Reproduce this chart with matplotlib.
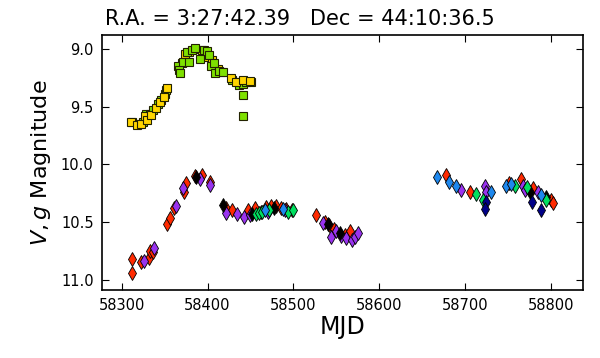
import matplotlib
matplotlib.use("Agg")
import matplotlib.pyplot as plt
import numpy as np

# ASAS-SN V-band (squares)
v_yellow_mjd = [58311, 58318, 58323, 58327, 58330, 58334, 58340, 58345, 58349, 58353,
                58370, 58374, 58378, 58385, 58394, 58400, 58405, 58412, 58416, 58427,
                58433, 58441, 58449]
v_yellow_mag = [9.63, 9.66, 9.65, 9.58, 9.62, 9.57, 9.51, 9.46, 9.42, 9.34,
                9.12, 9.04, 9.03, 9.00, 9.01, 9.07, 9.10, 9.17, 9.20, 9.25,
                9.29, 9.27, 9.28]
v_green_mjd = [58312, 58320, 58325, 58328, 58333, 58337, 58342, 58346, 58350, 58352,
               58366, 58367, 58368, 58371, 58376, 58378, 58382, 58386, 58391, 58396,
               58399, 58402, 58404, 58408, 58409, 58413, 58418, 58429, 58435, 58437,
               58441, 58441, 58441, 58445, 58451]
v_green_mag = [9.63, 9.65, 9.63, 9.56, 9.56, 9.53, 9.48, 9.44, 9.39, 9.36,
               9.15, 9.18, 9.21, 9.11, 9.03, 9.11, 9.01, 8.99, 9.09, 9.01,
               9.02, 9.05, 9.15, 9.12, 9.21, 9.19, 9.20, 9.27, 9.29, 9.31,
               9.30, 9.40, 9.58, 9.29, 9.29]

# g-band (diamonds), per camera
g_red_mjd = [58312, 58312, 58323, 58332, 58333, 58336, 58353, 58356, 58361, 58373,
             58375, 58386, 58394, 58403, 58421, 58429, 58447, 58455, 58462, 58468,
             58474, 58480, 58486, 58492, 58498, 58527, 58537, 58542, 58548, 58560,
             58566, 58678, 58706, 58752, 58765, 58779, 58800, 58803]
g_red_mag = [10.82, 10.94, 10.85, 10.81, 10.75, 10.76, 10.52, 10.47, 10.38, 10.24,
             10.16, 10.10, 10.09, 10.15, 10.38, 10.40, 10.40, 10.38, 10.41, 10.37,
             10.36, 10.36, 10.38, 10.39, 10.40, 10.44, 10.50, 10.53, 10.56, 10.61,
             10.58, 10.09, 10.24, 10.16, 10.13, 10.21, 10.31, 10.34]
g_purple_mjd = [58326, 58338, 58363, 58371, 58391, 58403, 58421, 58434, 58443, 58450,
                58470, 58490, 58535, 58544, 58550, 58556, 58562, 58568, 58572, 58576,
                58696, 58723, 58725, 58768, 58770, 58785]
g_purple_mag = [10.84, 10.73, 10.36, 10.21, 10.13, 10.18, 10.42, 10.43, 10.46, 10.44,
                10.41, 10.40, 10.51, 10.63, 10.58, 10.62, 10.64, 10.66, 10.63, 10.60,
                10.22, 10.19, 10.24, 10.19, 10.22, 10.24]
g_purple_err = [0.02, 0.02, 0.02, 0.02, 0.02, 0.02, 0.05, 0.02, 0.02, 0.02,
                0.02, 0.02, 0.02, 0.02, 0.02, 0.02, 0.02, 0.02, 0.02, 0.02,
                0.02, 0.02, 0.02, 0.02, 0.02, 0.02]
g_black_mjd = [58387, 58418, 58452, 58478, 58540, 58554, 58776, 58795]
g_black_mag = [10.11, 10.35, 10.43, 10.38, 10.52, 10.60, 10.24, 10.28]
g_green_mjd = [58456, 58460, 58464, 58472, 58494, 58500, 58713, 58721, 58758, 58772, 58795]
g_green_mag = [10.43, 10.42, 10.41, 10.40, 10.41, 10.40, 10.26, 10.31, 10.19, 10.20, 10.31]
g_blue_mjd = [58467, 58488, 58667, 58682, 58690, 58731, 58748, 58754, 58789]
g_blue_mag = [10.40, 10.39, 10.11, 10.15, 10.19, 10.24, 10.19, 10.17, 10.27]
g_navy_mjd = [58725, 58724, 58778, 58789]
g_navy_mag = [10.33, 10.39, 10.33, 10.40]

title = "R.A. = 3:27:42.39   Dec = 44:10:36.5"

fig = plt.figure(figsize=(6.0, 3.58), dpi=100)
ax = fig.add_axes([0.17, 0.19, 0.802, 0.712])

sq = dict(marker='s', ms=5.8, mec='#222200', mew=0.8, ls='none')
ym = np.array(v_yellow_mjd); yv = np.array(v_yellow_mag)
early = (ym < 58360) | (ym > 58425)
ax.plot(ym[~early], yv[~early], mfc='#ffd500', zorder=2.0, **sq)
ax.plot(v_green_mjd, v_green_mag, mfc='#7ee000', zorder=2.1, **sq)
ax.plot(ym[early], yv[early], mfc='#ffd500', zorder=2.2, **sq)

dm = dict(fmt='d', ms=7.5, mec='black', mew=0.6, ecolor='black', elinewidth=0.8, capsize=0)
ax.errorbar(g_red_mjd, g_red_mag, yerr=0.02, mfc='#ff2a00', **dm)
ax.errorbar(g_purple_mjd, g_purple_mag, yerr=g_purple_err, mfc='#9933ee', **dm)
ax.errorbar(g_black_mjd, g_black_mag, yerr=0.02, mfc='black', **dm)
ax.errorbar(g_green_mjd, g_green_mag, yerr=0.02, mfc='#00e060', **dm)
ax.errorbar(g_blue_mjd, g_blue_mag, yerr=0.02, mfc='#1e88ee', **dm)
ax.errorbar(g_navy_mjd, g_navy_mag, yerr=0.02, mfc='#000088', **dm)

ax.set_xlim(58277, 58838)
ax.set_ylim(11.09, 8.88)
ax.set_xticks([58300, 58400, 58500, 58600, 58700, 58800])
ax.set_yticks([9.0, 9.5, 10.0, 10.5, 11.0])
ax.tick_params(direction='in', top=True, right=True, labelsize=10.5, length=5, pad=6)
ax.set_xlabel("MJD", fontsize=17, labelpad=1)
ax.set_ylabel("$V,g$ Magnitude", fontsize=16, labelpad=6)
fig.suptitle(title, fontsize=15, x=0.5, y=0.975)
for s in ax.spines.values():
    s.set_linewidth(1.2)

fig.savefig("out.png", dpi=100)
